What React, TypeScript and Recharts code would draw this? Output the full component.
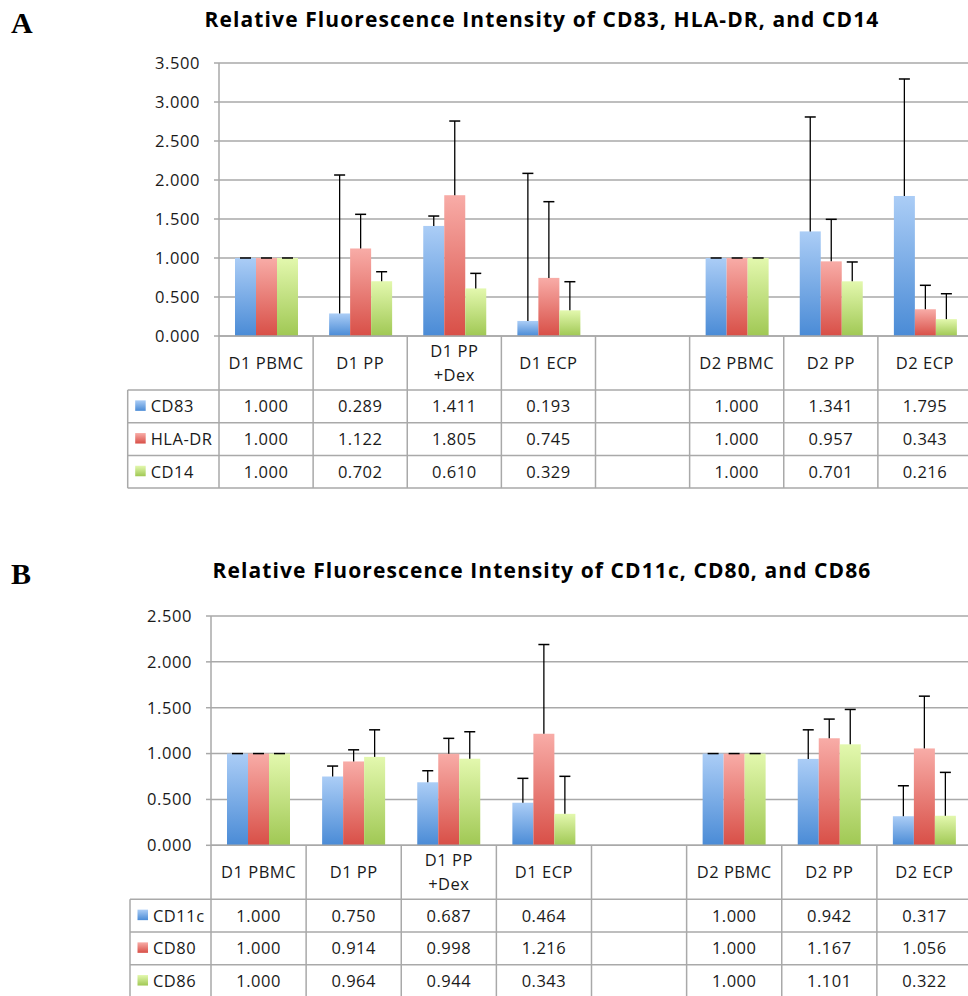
import React from "react";
import { BarChart, Bar, XAxis, YAxis, CartesianGrid } from "recharts";

// Panel A
const categoriesA = ["D1 PBMC", "D1 PP", "D1 PP\n+Dex", "D1 ECP", "", "D2 PBMC", "D2 PP", "D2 ECP"];
const cd83 = [1.0, 0.289, 1.411, 0.193, null, 1.0, 1.341, 1.795];
const hladr = [1.0, 1.122, 1.805, 0.745, null, 1.0, 0.957, 0.343];
const cd14 = [1.0, 0.702, 0.61, 0.329, null, 1.0, 0.701, 0.216];
const cd83Err = [0, 1.775, 0.127, 1.892, null, 0, 1.467, 1.5];
const hladrErr = [0, 0.438, 0.951, 0.977, null, 0, 0.539, 0.307];
const cd14Err = [0, 0.122, 0.193, 0.367, null, 0, 0.248, 0.326];
const ticksA = [0, 0.5, 1, 1.5, 2, 2.5, 3, 3.5];

// Panel B
const categoriesB = ["D1 PBMC", "D1 PP", "D1 PP\n+Dex", "D1 ECP", "", "D2 PBMC", "D2 PP", "D2 ECP"];
const cd11c = [1.0, 0.75, 0.687, 0.464, null, 1.0, 0.942, 0.317];
const cd80 = [1.0, 0.914, 0.998, 1.216, null, 1.0, 1.167, 1.056];
const cd86 = [1.0, 0.964, 0.944, 0.343, null, 1.0, 1.101, 0.322];
const cd11cErr = [0, 0.114, 0.126, 0.266, null, 0, 0.317, 0.332];
const cd80Err = [0, 0.127, 0.168, 0.973, null, 0, 0.209, 0.57];
const cd86Err = [0, 0.295, 0.294, 0.409, null, 0, 0.38, 0.473];
const ticksB = [0, 0.5, 1, 1.5, 2, 2.5];

const FONT = "'Open Sans', Lato, sans-serif";
const GRID = "#a9a9a9";
const TXT = "#1a1a1a";

const gradients = [
  { id: "gBlue", top: "#abcdf6", bottom: "#4a8bd6" },
  { id: "gRed", top: "#f8aca7", bottom: "#d84f47" },
  { id: "gGreen", top: "#e3f8ae", bottom: "#a0c854" },
];

const buildRows = (cats: string[], a: any[], b: any[], c: any[], ea: any[], eb: any[], ec: any[]) =>
  cats.map((name, i) => ({ name, s0: a[i], s1: b[i], s2: c[i], e0: ea[i], e1: eb[i], e2: ec[i] }));

const dataA = buildRows(categoriesA, cd83, hladr, cd14, cd83Err, hladrErr, cd14Err);
const dataB = buildRows(categoriesB, cd11c, cd80, cd86, cd11cErr, cd80Err, cd86Err);

// bar with a plus-only error bar on top
const barShape = (fillId: string, errKey: string) => (props: any) => {
  const { x, y, width, height, payload, value } = props;
  const v = Array.isArray(value) ? value[1] : value;
  if (v == null || !height) return <g />;
  const err = payload[errKey] || 0;
  const perUnit = height / v;
  const cx = x + width / 2;
  const top = y - err * perUnit;
  return (
    <g>
      <rect x={x} y={y} width={width} height={height} fill={`url(#${fillId})`} />
      {err > 0 && <line x1={cx} x2={cx} y1={y} y2={top} stroke="#000" strokeWidth={1.3} />}
      <line x1={cx - 5.5} x2={cx + 5.5} y1={top} y2={top} stroke="#000" strokeWidth={1.5} />
    </g>
  );
};

const HEADER_H = 54;
const ROW_H = 32.7;

const TableTick = (props: any) => {
  const { x, y, payload, index, colW, series, legendX, chartW, count } = props;
  const left = x - colW / 2;
  const right = x + colW / 2;
  const bottom = y + HEADER_H + ROW_H * series.length;
  const lines = String(payload.value).split("\n");
  const headerMid = y + HEADER_H / 2;
  return (
    <g fontFamily={FONT} fontSize={16.5} letterSpacing={0.5} fill={TXT}>
      {index === 0 && (
        <g>
          {series.map((_: any, r: number) => (
            <line key={r} x1={legendX} x2={chartW} y1={y + HEADER_H + ROW_H * r} y2={y + HEADER_H + ROW_H * r} stroke={GRID} strokeWidth={1.5} />
          ))}
          <line x1={legendX} x2={chartW} y1={bottom} y2={bottom} stroke={GRID} strokeWidth={1.5} />
          <line x1={legendX} x2={legendX} y1={y + HEADER_H} y2={bottom} stroke={GRID} strokeWidth={1.5} />
          {series.map((s: any, r: number) => {
            const cy = y + HEADER_H + ROW_H * r + ROW_H / 2;
            return (
              <g key={r}>
                <rect x={legendX + 7.5} y={cy - 6} width={10.5} height={10.5} fill={`url(#${s.fill})`} />
                <text x={legendX + 23} y={cy} dy="0.36em" textAnchor="start" fill={TXT}>{s.label}</text>
              </g>
            );
          })}
        </g>
      )}
      <line x1={left} x2={left} y1={y} y2={bottom} stroke={GRID} strokeWidth={1.5} />
      {index === count - 1 && <line x1={right} x2={right} y1={y} y2={bottom} stroke={GRID} strokeWidth={1.5} />}
      {lines.map((t, k) => (
        <text key={k} x={x} y={headerMid + (k - (lines.length - 1) / 2) * 24} dy="0.36em" textAnchor="middle" fill={TXT}>{t}</text>
      ))}
      {series.map((s: any, r: number) => {
        const v = s.values[index];
        const cy = y + HEADER_H + ROW_H * r + ROW_H / 2;
        return v == null ? null : (
          <text key={r} x={x} y={cy} dy="0.36em" textAnchor="middle" fill={TXT}>{v.toFixed(3)}</text>
        );
      })}
    </g>
  );
};

interface PanelProps {
  letter: string;
  title: string;
  top: number;
  letterTop: number;
  titleTop: number;
  data: any[];
  ticks: number[];
  plotH: number;
  axisW: number;
  legendX: number;
  series: { label: string; fill: string; values: (number | null)[] }[];
}

const CHART_W = 980;
const MARGIN_TOP = 20;
const XAXIS_H = 160;

const Panel = ({ letter, title, top, letterTop, titleTop, data, ticks, plotH, axisW, legendX, series }: PanelProps) => {
  const colW = (CHART_W - axisW - 8) / data.length;
  return (
    <>
      <div style={{ position: "absolute", left: 11, top: letterTop, fontFamily: "'Liberation Serif', 'Times New Roman', serif", fontWeight: 700, fontSize: 30, lineHeight: "30px", color: "#000" }}>
        {letter}
      </div>
      <div style={{ position: "absolute", left: 542, top: titleTop, transform: "translateX(-50%)", whiteSpace: "nowrap", fontFamily: FONT, fontWeight: 700, fontSize: 21, letterSpacing: 1.1, lineHeight: "24px", color: "#000" }}>
        {title}
      </div>
      <div style={{ position: "absolute", left: 0, top }}>
        <BarChart width={CHART_W} height={MARGIN_TOP + plotH + XAXIS_H} data={data} margin={{ top: MARGIN_TOP, right: 8, left: 0, bottom: 0 }} barSize={21} barGap={0}>
          <defs>
            {gradients.map((g) => (
              <linearGradient key={g.id} id={g.id} x1="0" y1="0" x2="0" y2="1">
                <stop offset="0%" stopColor={g.top} />
                <stop offset="100%" stopColor={g.bottom} />
              </linearGradient>
            ))}
          </defs>
          <CartesianGrid vertical={false} stroke={GRID} strokeWidth={1.5} />
          <XAxis
            dataKey="name"
            interval={0}
            height={XAXIS_H}
            tickLine={false}
            tickSize={0}
            tickMargin={0}
            axisLine={{ stroke: GRID, strokeWidth: 1.5 }}
            tick={(p: any) => (
              <TableTick {...p} colW={colW} series={series} legendX={legendX} chartW={CHART_W} count={data.length} />
            )}
          />
          <YAxis
            width={axisW}
            domain={[0, ticks[ticks.length - 1]]}
            ticks={ticks}
            tickFormatter={(v: number) => v.toFixed(3)}
            tickSize={5}
            tickMargin={14}
            tickLine={{ stroke: GRID, strokeWidth: 1.5 }}
            axisLine={{ stroke: GRID, strokeWidth: 1.5 }}
            tick={{ fill: TXT, fontFamily: FONT, fontSize: 16.5, letterSpacing: 0.6 }}
          />
          <Bar dataKey="s0" isAnimationActive={false} shape={barShape("gBlue", "e0")} />
          <Bar dataKey="s1" isAnimationActive={false} shape={barShape("gRed", "e1")} />
          <Bar dataKey="s2" isAnimationActive={false} shape={barShape("gGreen", "e2")} />
        </BarChart>
      </div>
    </>
  );
};

export default function App() {
  return (
    <div style={{ position: "absolute", left: 0, top: 0, width: 968, height: 996, overflow: "hidden", background: "#fff" }}>
      <Panel
        letter="A"
        title="Relative Fluorescence Intensity of CD83, HLA-DR, and CD14"
        top={43}
        letterTop={8}
        titleTop={7}
        data={dataA}
        ticks={ticksA}
        plotH={273}
        axisW={219}
        legendX={127.7}
        series={[
          { label: "CD83", fill: "gBlue", values: cd83 },
          { label: "HLA-DR", fill: "gRed", values: hladr },
          { label: "CD14", fill: "gGreen", values: cd14 },
        ]}
      />
      <Panel
        letter="B"
        title="Relative Fluorescence Intensity of CD11c, CD80, and CD86"
        top={596}
        letterTop={559}
        titleTop={558}
        data={dataB}
        ticks={ticksB}
        plotH={229.3}
        axisW={211}
        legendX={130}
        series={[
          { label: "CD11c", fill: "gBlue", values: cd11c },
          { label: "CD80", fill: "gRed", values: cd80 },
          { label: "CD86", fill: "gGreen", values: cd86 },
        ]}
      />
    </div>
  );
}
